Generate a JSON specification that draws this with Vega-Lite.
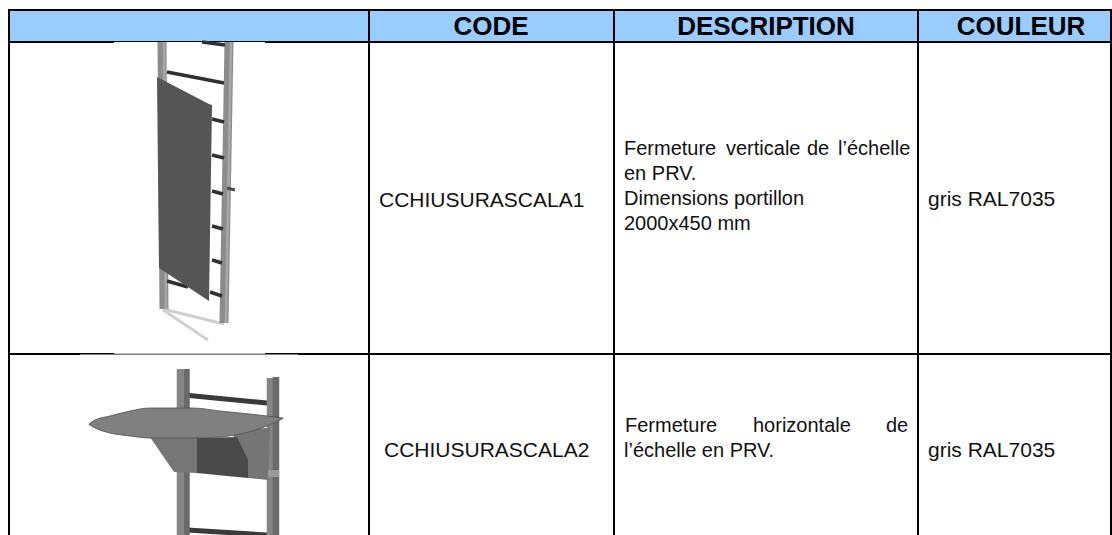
{"$schema":"https://vega.github.io/schema/vega-lite/v6.json","width":1112,"height":535,"padding":0,"autosize":"none","background":"white","config":{"view":{"stroke":null}},
"encoding":{"x":{"field":"x","type":"quantitative","scale":{"domain":[0,1112],"nice":false,"zero":false},"axis":null},"y":{"field":"y","type":"quantitative","scale":{"domain":[535,0],"nice":false,"zero":false},"axis":null}},
"layer":[
{"data":{"values":[{"x":9,"x2":1112,"y":10,"y2":41}]},"mark":{"type":"rect","color":"#99ccff"},"encoding":{"x2":{"field":"x2"},"y2":{"field":"y2"}}},
{"data":{"values":[
{"x":8,"x2":1112,"y":10,"y2":10},{"x":8,"x2":1112,"y":42,"y2":42},{"x":8,"x2":1112,"y":354,"y2":354},
{"x":9,"x2":9,"y":10,"y2":535},{"x":369,"x2":369,"y":10,"y2":535},{"x":614,"x2":614,"y":10,"y2":535},{"x":918,"x2":918,"y":10,"y2":535},{"x":1111,"x2":1111,"y":10,"y2":535}
]},"mark":{"type":"rule","color":"black","strokeWidth":2},"encoding":{"x2":{"field":"x2"},"y2":{"field":"y2"}}},
{"data":{"values":[{"x":114,"x2":265,"y":42,"y2":353.5},{"x":80,"x2":298,"y":354.5,"y2":535}]},"mark":{"type":"rect","color":"white"},"encoding":{"x2":{"field":"x2"},"y2":{"field":"y2"}}},
{"data":{"values":[{"x":114,"x2":265,"y":353.5,"y2":353.5}]},"mark":{"type":"rule","color":"#bdbdbd","strokeWidth":1.2},"encoding":{"x2":{"field":"x2"},"y2":{"field":"y2"}}},
{"data":{"values":[{"x":163,"y":310,"x2":208,"y2":340},{"x":163,"y":309,"x2":224,"y2":324}]},"mark":{"type":"rule","color":"#cfcfcf","strokeWidth":3},"encoding":{"x2":{"field":"x2"},"y2":{"field":"y2"}}},
{"data":{"values":[{"x":162,"y":42,"x2":164,"y2":309},{"x":229,"y":42,"x2":224,"y2":323}]},"mark":{"type":"rule","color":"#8c8c8c","strokeWidth":9},"encoding":{"x2":{"field":"x2"},"y2":{"field":"y2"}}},
{"data":{"values":[{"x":164,"y":42,"x2":166,"y2":309},{"x":231,"y":42,"x2":226,"y2":323}]},"mark":{"type":"rule","color":"#a8a8a8","strokeWidth":2.5},"encoding":{"x2":{"field":"x2"},"y2":{"field":"y2"}}},
{"data":{"values":[
{"x":202,"y":42,"x2":225,"y2":45},{"x":167,"y":72,"x2":224,"y2":83},{"x":212,"y":119,"x2":224,"y2":122},{"x":212,"y":155,"x2":224,"y2":158},{"x":212,"y":191,"x2":223,"y2":194},{"x":212,"y":226,"x2":223,"y2":229},{"x":212,"y":260,"x2":222,"y2":263},{"x":167,"y":281,"x2":188,"y2":287},{"x":210,"y":292,"x2":222,"y2":296}
]},"mark":{"type":"rule","color":"#303030","strokeWidth":3.5},"encoding":{"x2":{"field":"x2"},"y2":{"field":"y2"}}},
{"data":{"values":[{"x":227,"y":188,"x2":235,"y2":190},{"x":204,"y":199,"x2":206,"y2":200}]},"mark":{"type":"rule","color":"#4a4a4a","strokeWidth":3},"encoding":{"x2":{"field":"x2"},"y2":{"field":"y2"}}},
{"data":{"values":[{"x":184,"y":395,"x2":267,"y2":403},{"x":187,"y":530,"x2":267,"y2":535}]},"mark":{"type":"rule","color":"#3a3a3a","strokeWidth":5},"encoding":{"x2":{"field":"x2"},"y2":{"field":"y2"}}},
{"data":{"values":[{"x":180,"y":369,"x2":180,"y2":535},{"x":270,"y":378,"x2":270,"y2":535}]},"mark":{"type":"rule","color":"#858585","strokeWidth":6.5},"encoding":{"x2":{"field":"x2"},"y2":{"field":"y2"}}},
{"data":{"values":[{"x":186.5,"y":369,"x2":186.5,"y2":535},{"x":276,"y":377,"x2":276,"y2":535}]},"mark":{"type":"rule","color":"#6a6a6a","strokeWidth":6.5},"encoding":{"x2":{"field":"x2"},"y2":{"field":"y2"}}},
{"data":{"values":[
{"s":"brr","x":232,"y":431,"y2":431.5},{"s":"brr","x":248,"y":429,"y2":478},{"s":"brr","x":268,"y":428,"y2":480},{"s":"brr","x":270,"y":428,"y2":428.5},
{"s":"brl","x":151,"y":438,"y2":438.5},{"s":"brl","x":174,"y":438,"y2":472},{"s":"brl","x":197,"y":438,"y2":473},
{"s":"panel","x":197,"y":438,"y2":473},{"s":"panel","x":237,"y":437,"y2":477},{"s":"panel","x":248,"y":460,"y2":478},
{"s":"clip","x":268,"y":470,"y2":477},{"s":"clip","x":279,"y":470,"y2":477},
{"s":"door","x":157,"y":77,"y2":77.5},{"s":"door","x":159,"y":78,"y2":268},{"s":"door","x":209,"y":104,"y2":301},{"s":"door","x":212,"y":105,"y2":105.5}
]},"mark":{"type":"area"},"encoding":{"y":{"field":"y","type":"quantitative","stack":null,"scale":{"domain":[535,0],"nice":false,"zero":false},"axis":null},"y2":{"field":"y2"},"detail":{"field":"s"},
"color":{"field":"s","type":"nominal","legend":null,"scale":{"domain":["door","brl","panel","brr","clip"],"range":["#555555","#767676","#4a4a4a","#757575","#9a9a9a"]}}}},
{"data":{"values":[
{"x":89,"y":424,"y2":424.5},{"x":95,"y":420,"y2":428},{"x":110,"y":416,"y2":433},{"x":130,"y":411,"y2":436},{"x":150,"y":408,"y2":438},{"x":193,"y":408,"y2":438},{"x":220,"y":411,"y2":437},{"x":240,"y":413,"y2":434},{"x":267,"y":416,"y2":426},{"x":283,"y":418,"y2":418.5}
]},"mark":{"type":"area","color":"#808080","stroke":"#4f4f4f","strokeWidth":0.8,"interpolate":"monotone"},"encoding":{"y2":{"field":"y2"}}},
{"data":{"values":[{"t":"CODE","x":491,"y":27},{"t":"DESCRIPTION","x":766,"y":27},{"t":"COULEUR","x":1021,"y":27}]},"mark":{"type":"text","font":"Liberation Sans","fontWeight":"bold","fontSize":26,"align":"center","baseline":"middle","color":"black"},"encoding":{"text":{"field":"t"}}},
{"data":{"values":[
{"t":"CCHIUSURASCALA1","x":379,"y":201},{"t":"CCHIUSURASCALA2","x":384,"y":451},
{"t":"gris RAL7035","x":928,"y":200},{"t":"gris RAL7035","x":928,"y":451}
]},"mark":{"type":"text","font":"Liberation Sans","fontSize":21,"align":"left","baseline":"middle","color":"#111111"},"encoding":{"text":{"field":"t"}}},
{"data":{"values":[
{"t":"Fermeture","x":624,"y":149},{"t":"verticale","x":726,"y":149},{"t":"de","x":807,"y":149},{"t":"l’échelle","x":838,"y":149},
{"t":"en PRV.","x":624,"y":174},{"t":"Dimensions portillon","x":624,"y":199},{"t":"2000x450 mm","x":624,"y":224},
{"t":"Fermeture","x":625,"y":426},{"t":"horizontale","x":753,"y":426},{"t":"de","x":886,"y":426},{"t":"l’échelle en PRV.","x":624,"y":451}
]},"mark":{"type":"text","font":"Liberation Sans","fontSize":20,"align":"left","baseline":"middle","color":"#111111"},"encoding":{"text":{"field":"t"}}}
]}
